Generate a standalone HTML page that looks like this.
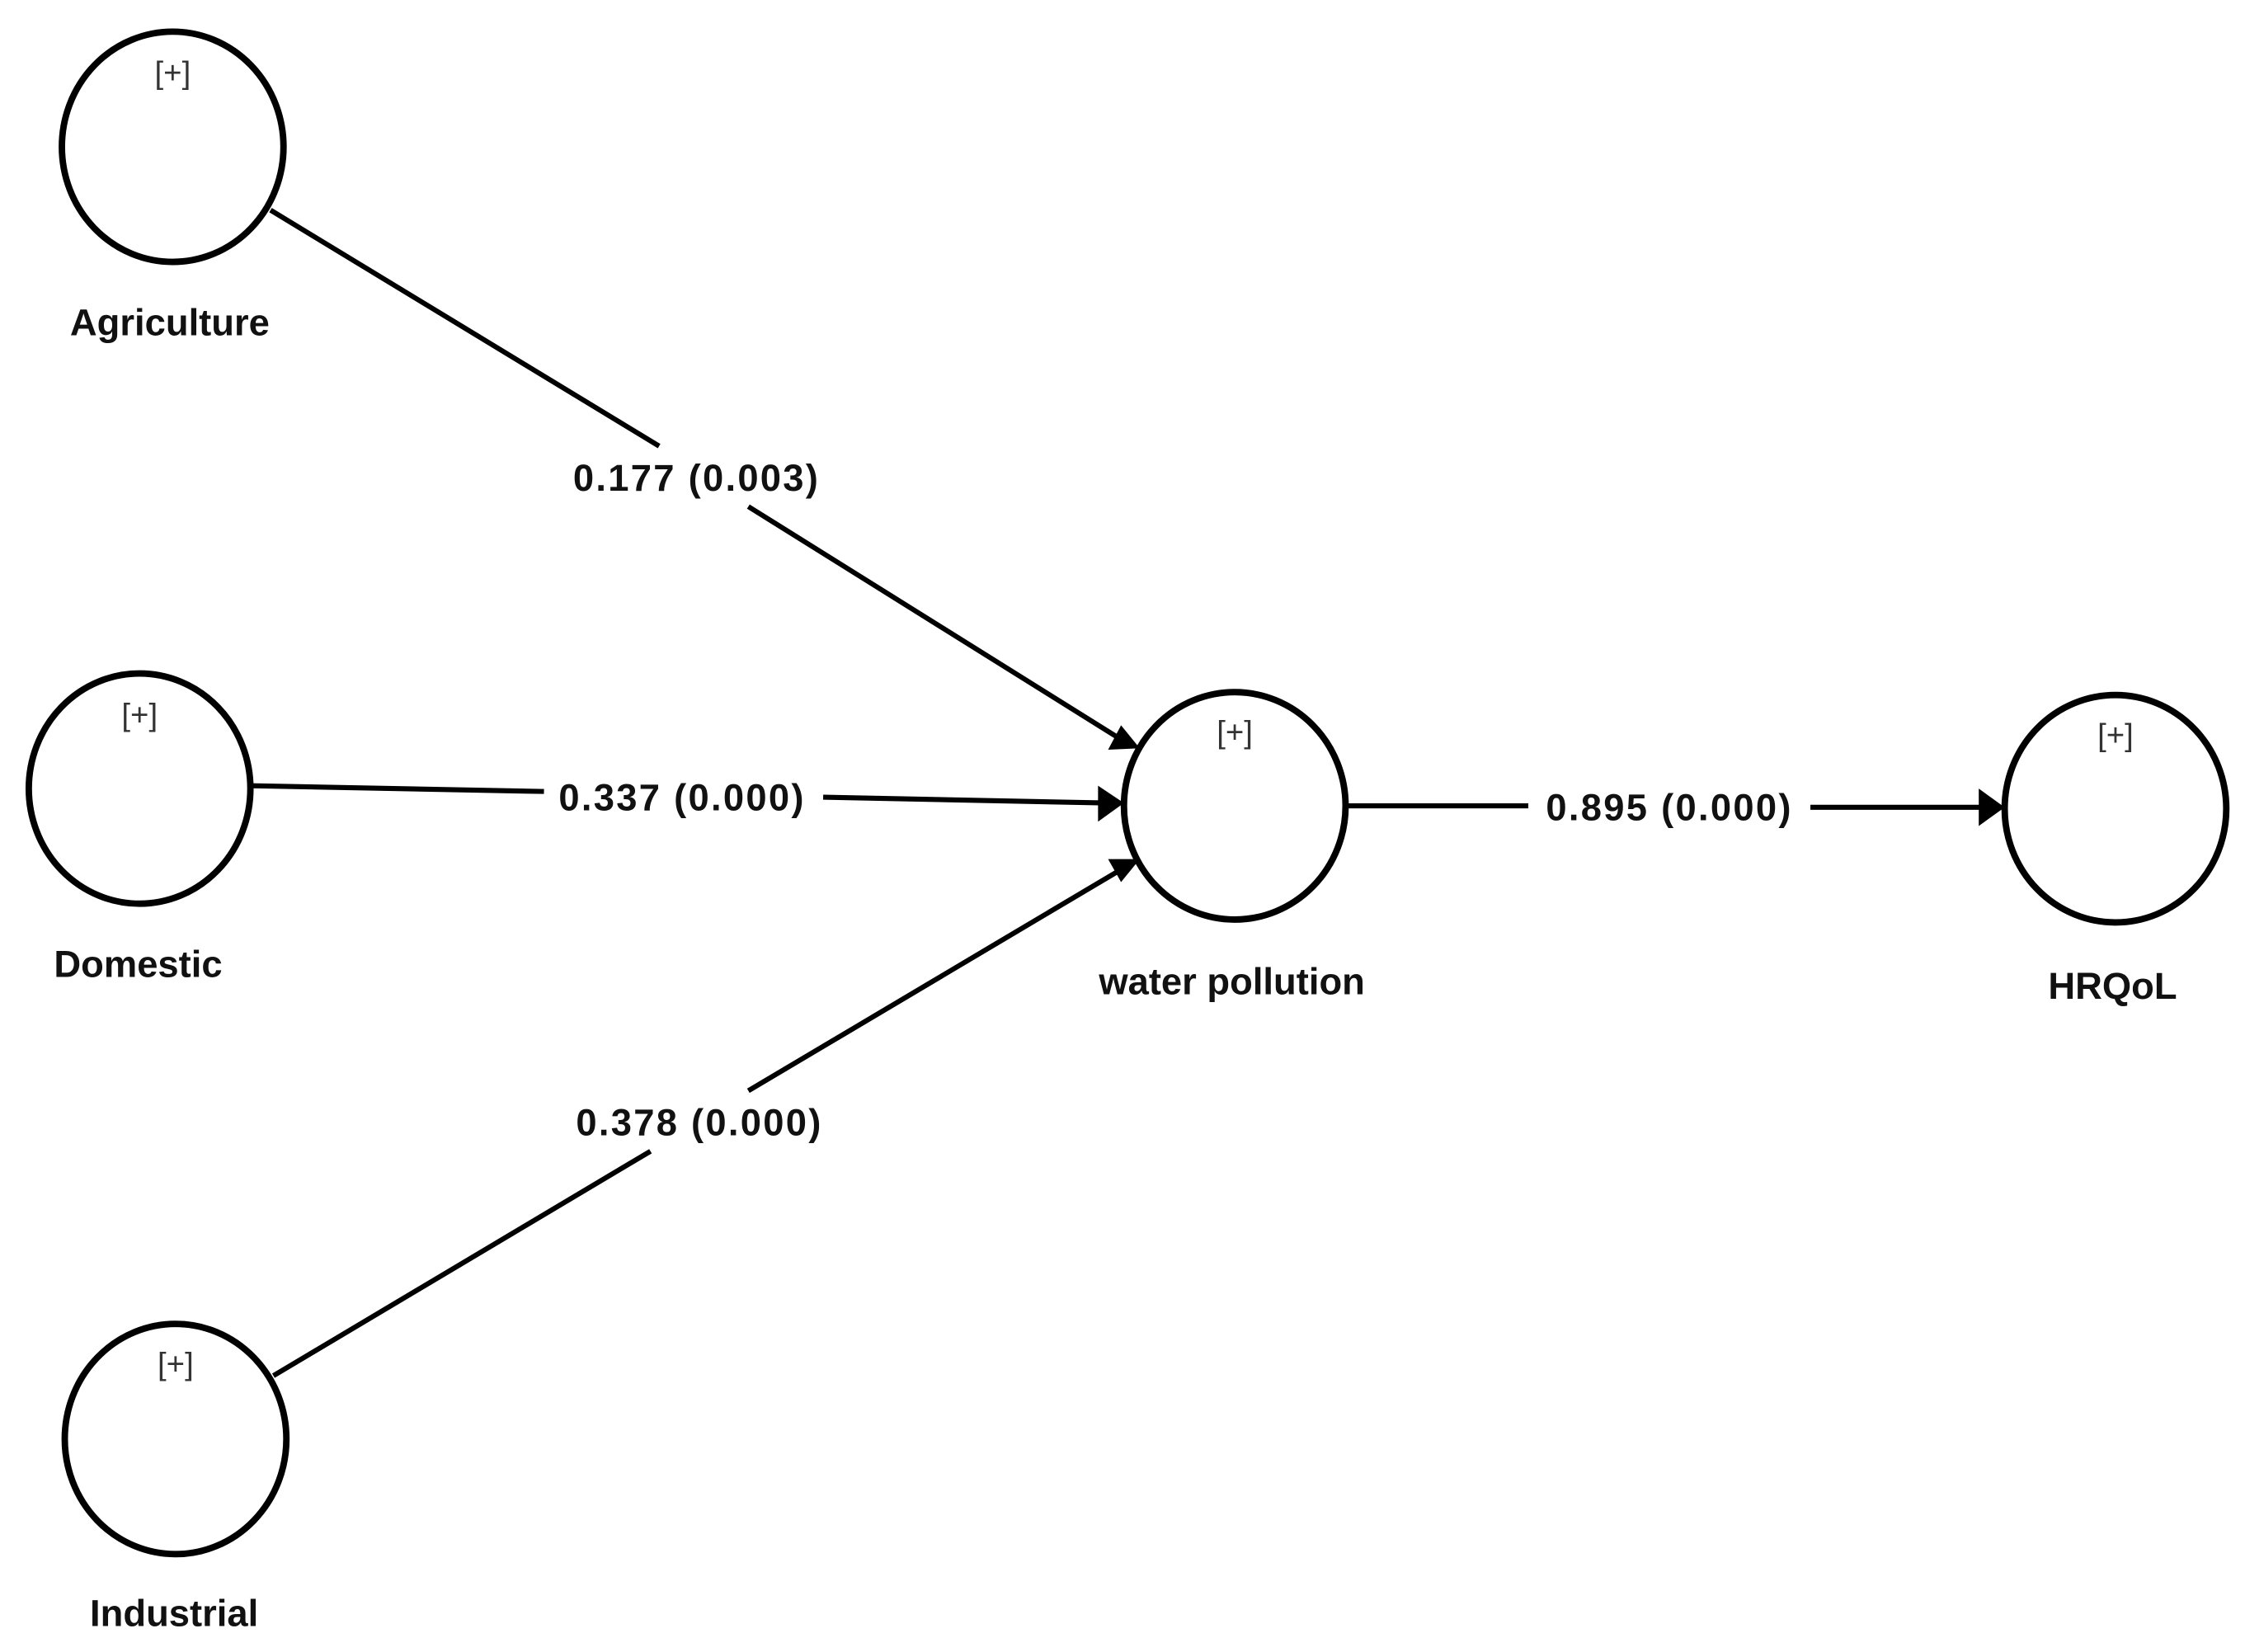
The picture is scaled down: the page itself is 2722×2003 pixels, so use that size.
<!DOCTYPE html>
<html><head><meta charset="utf-8"><style>
html,body{margin:0;padding:0;background:#fff;}
svg{display:block;}
text{font-family:"Liberation Sans",Arial,sans-serif;fill:#111;}
.lb{font-size:26px;font-weight:bold;text-anchor:middle;}
.nm{font-size:26px;font-weight:bold;text-anchor:middle;letter-spacing:1.3px;}
.pl{font-size:22px;text-anchor:middle;fill:#333;}
</style></head><body>
<svg width="2722" height="2003" viewBox="0 0 1560 1148" preserveAspectRatio="none" xmlns="http://www.w3.org/2000/svg">
<g fill="none" stroke="#000" stroke-width="4.5">
<ellipse cx="120" cy="102" rx="77" ry="80"/>
<ellipse cx="97" cy="548" rx="77" ry="80"/>
<ellipse cx="122" cy="1000" rx="77" ry="80"/>
<ellipse cx="858" cy="560" rx="77" ry="79"/>
<ellipse cx="1470" cy="562" rx="77" ry="79"/>
<g stroke-width="3.5">
<line x1="188" y1="146" x2="458" y2="310"/>
<line x1="520" y1="352" x2="776" y2="512"/>
<line x1="175" y1="546" x2="378" y2="550"/>
<line x1="572" y1="554" x2="768" y2="558"/>
<line x1="190" y1="956" x2="452" y2="800"/>
<line x1="520" y1="758" x2="776" y2="606"/>
<line x1="937" y1="560" x2="1062" y2="560"/>
<line x1="1258" y1="561" x2="1380" y2="561"/>
</g></g>
<g fill="#000">
<polygon points="792,520 770,521 779,504"/>
<polygon points="781,558 763,546 763,571"/>
<polygon points="792,597 779,613 770,597"/>
<polygon points="1393,561 1375,548 1375,574"/>
</g>
<text class="pl" x="120" y="58">[+]</text>
<text class="pl" x="97" y="504">[+]</text>
<text class="pl" x="122" y="955">[+]</text>
<text class="pl" x="858" y="516">[+]</text>
<text class="pl" x="1470" y="518">[+]</text>
<text class="lb" x="118" y="233">Agriculture</text>
<text class="lb" x="96" y="679">Domestic</text>
<text class="lb" x="121" y="1130">Industrial</text>
<text class="lb" x="856" y="691">water pollution</text>
<text class="lb" x="1468" y="694">HRQoL</text>
<text class="nm" x="484" y="341">0.177 (0.003)</text>
<text class="nm" x="474" y="563">0.337 (0.000)</text>
<text class="nm" x="486" y="789">0.378 (0.000)</text>
<text class="nm" x="1160" y="570">0.895 (0.000)</text>
</svg>
</body></html>
